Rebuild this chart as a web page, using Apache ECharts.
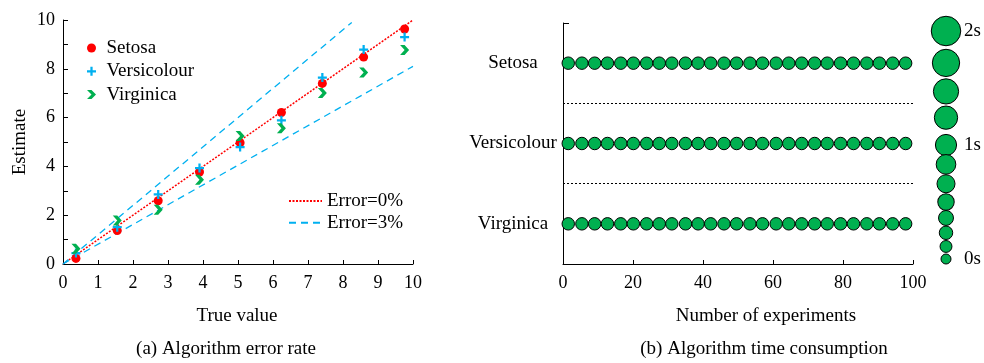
<!DOCTYPE html>
<html><head><meta charset="utf-8">
<script src="https://cdn.jsdelivr.net/npm/echarts@6/dist/echarts.min.js"></script>
<style>html,body{margin:0;padding:0;background:#fff}#c{width:984px;height:363px}</style>
</head><body><div id="c"></div>
<script>
// ---- data: (a) error rate ----
const trueValues     = [0.37, 1.55, 2.72, 3.90, 5.06, 6.24, 7.41, 8.59, 9.76];
const setosaEst      = [0.23, 1.37, 2.59, 3.77, 4.97, 6.21, 7.40, 8.48, 9.63];
const versicolourEst = [0.45, 1.51, 2.85, 3.93, 4.79, 5.89, 7.64, 8.79, 9.30];
const virginicaEst   = [0.62, 1.78, 2.22, 3.45, 5.25, 5.56, 7.01, 7.85, 8.77];
const error0Line  = [[0, 0], [10, 10]];
const error3Upper = [[0, 0], [8.25, 9.9]];
const error3Lower = [[0, 0], [10, 8.1]];
const leftXTickLabels = ['0','1','2','3','4','5','6','7','8','9','10'];
const leftYTickLabels = ['0','2','4','6','8','10'];

// ---- data: (b) time consumption ----
const species = ['Virginica', 'Versicolour', 'Setosa'];
const experimentRuns = [1.5, 5.4, 9.05, 12.7, 16.5, 20.1, 23.9, 27.5, 31.1, 35.0, 38.6, 42.2, 46.0, 49.6,
  53.4, 57.0, 60.9, 64.5, 68.2, 71.9, 75.5, 79.3, 83.0, 86.8, 90.4, 94.2, 97.9];
const setosaTime      = [0.15,0.15,0.15,0.15,0.15,0.15,0.15,0.15,0.15,0.15,0.15,0.15,0.15,0.15,0.15,0.15,0.15,0.15,0.15,0.15,0.15,0.15,0.15,0.15,0.15,0.15,0.15];
const versicolourTime = [0.15,0.15,0.15,0.15,0.15,0.15,0.15,0.15,0.15,0.15,0.15,0.15,0.15,0.15,0.15,0.15,0.15,0.15,0.15,0.15,0.15,0.15,0.15,0.15,0.15,0.15,0.15];
const virginicaTime   = [0.15,0.15,0.15,0.15,0.15,0.15,0.15,0.15,0.15,0.15,0.15,0.15,0.15,0.15,0.15,0.15,0.15,0.15,0.15,0.15,0.15,0.15,0.15,0.15,0.15,0.15,0.15];
const timeScaleValues = [2, 1.72, 1.47, 1.24, 1.0, 0.83, 0.66, 0.5, 0.36, 0.23, 0.11, 0];
const timeScaleLabels = ['0s', '1s', '2s'];
const rightXTickLabels = ['0','20','40','60','80','100'];

// ---- styling ----
const FONT = 'Liberation Serif';
const RED = '#FF0000', BLUE = '#00B0F0', GREEN = '#00B050';
const sizeOf = t => 10 + 19.5 * Math.pow(t / 2, 0.8);
const PLUS = 'path://M3,0 L5,0 L5,3 L8,3 L8,5 L5,5 L5,8 L3,8 L3,5 L0,5 L0,3 L3,3 Z';
const CHEV = 'path://M0,0 L4,0 L8,4 L4,8 L0,8 L4,4 Z';

const G0 = {left: 63, top: 20, width: 350, height: 244};
const G1 = {left: 563, top: 23, width: 350, height: 241};
const G2 = {left: 930, top: 31, width: 32, height: 228};

const axisLineBlack = {show: true, lineStyle: {color: '#000', width: 1}};
const tickText = {fontFamily: FONT, fontSize: 18, color: '#000'};
const bigText = {fontFamily: FONT, fontSize: 19, color: '#000', fontWeight: 'normal'};

const zip = (xs, ys) => xs.map((x, i) => [x, ys[i]]);
const row = (name, times) => experimentRuns.map((x, i) => [x, name, times[i]]);

const chart = echarts.init(document.getElementById('c'), null, {renderer: 'canvas'});
chart.setOption({
  animation: false,
  backgroundColor: '#fff',
  textStyle: {fontFamily: FONT},
  grid: [
    Object.assign({containLabel: false}, G0),
    Object.assign({containLabel: false}, G1),
    Object.assign({containLabel: false}, G2)
  ],
  title: [
    {text: 'True value', left: 232, top: 302, textAlign: 'center', textStyle: bigText},
    {text: '(a) Algorithm error rate', left: 221, top: 335, textAlign: 'center', textStyle: bigText},
    {text: 'Number of experiments', left: 761, top: 302, textAlign: 'center', textStyle: bigText},
    {text: '(b) Algorithm time consumption', left: 759, top: 335, textAlign: 'center', textStyle: bigText}
  ],
  legend: [
    {
      data: ['Setosa', 'Versicolour', 'Virginica'],
      orient: 'vertical', left: 82, top: 33, itemWidth: 20, itemHeight: 9, itemGap: 3.3,
      selectedMode: false,
      textStyle: {fontFamily: FONT, fontSize: 19, color: '#000', lineHeight: 20}
    },
    {
      data: ['Error=0%', 'Error=3%'],
      orient: 'vertical', left: 283, top: 186, itemWidth: 33, itemHeight: 10, itemGap: 1.7,
      selectedMode: false,
      itemStyle: {opacity: 0},
      textStyle: {fontFamily: FONT, fontSize: 19, color: '#000', lineHeight: 20}
    }
  ],
  xAxis: [
    {
      gridIndex: 0, type: 'value', min: 0, max: 10, interval: 1,
      axisLine: axisLineBlack,
      axisTick: {show: true, inside: true, length: 4, lineStyle: {color: '#000'}},
      axisLabel: Object.assign({margin: 10, formatter: v => leftXTickLabels[Math.round(v)]}, tickText),
      splitLine: {show: false}
    },
    {
      gridIndex: 1, type: 'value', min: 0, max: 100, interval: 20,
      axisLine: axisLineBlack,
      axisTick: {show: true, inside: true, length: 4, lineStyle: {color: '#000'}},
      axisLabel: Object.assign({margin: 10, formatter: v => rightXTickLabels[Math.round(v / 20)]}, tickText),
      splitLine: {show: false}
    },
    {gridIndex: 2, type: 'value', min: -1, max: 1, show: false}
  ],
  yAxis: [
    {
      gridIndex: 0, type: 'value', min: 0, max: 10, interval: 1,
      name: 'Estimate', nameLocation: 'middle', nameGap: 33,
      nameTextStyle: {fontFamily: FONT, fontSize: 19, color: '#000'},
      axisLine: axisLineBlack,
      axisTick: {show: true, inside: true, length: 5, lineStyle: {color: '#000'}},
      axisLabel: Object.assign({margin: 8, formatter: v => (Math.round(v) % 2 === 0 ? leftYTickLabels[Math.round(v) / 2] : '')}, tickText),
      splitLine: {show: false}
    },
    {
      gridIndex: 1, type: 'category', data: species, boundaryGap: true,
      axisLine: axisLineBlack,
      axisTick: {show: false},
      axisLabel: {margin: 50, align: 'center', fontFamily: FONT, fontSize: 19, color: '#000'},
      splitLine: {show: true, showMinLine: false, showMaxLine: false,
        lineStyle: {color: '#000', width: 1, type: [2, 2]}}
    },
    {
      gridIndex: 2, type: 'value', min: 0, max: 2, interval: 1, position: 'right',
      axisLine: {show: false}, axisTick: {show: false}, splitLine: {show: false},
      axisLabel: {margin: 2, fontFamily: FONT, fontSize: 19, color: '#000',
        formatter: v => timeScaleLabels[Math.round(v)]}
    }
  ],
  series: [
    {name: 'Error=0%', type: 'line', xAxisIndex: 0, yAxisIndex: 0, data: error0Line, symbol: 'none', z: 1,
      lineStyle: {color: RED, width: 1.5, type: [2, 1.5]}, itemStyle: {color: RED, opacity: 0}},
    {name: 'Error=3%', type: 'line', xAxisIndex: 0, yAxisIndex: 0, data: error3Upper, symbol: 'none', z: 1,
      lineStyle: {color: BLUE, width: 1.3, type: [7, 5]}, itemStyle: {color: BLUE, opacity: 0}},
    {name: 'Error=3%', type: 'line', xAxisIndex: 0, yAxisIndex: 0, data: error3Lower, symbol: 'none', z: 1,
      lineStyle: {color: BLUE, width: 1.3, type: [7, 5]}, itemStyle: {color: BLUE, opacity: 0}},
    {name: 'Setosa', type: 'scatter', xAxisIndex: 0, yAxisIndex: 0, data: zip(trueValues, setosaEst),
      symbol: 'circle', symbolSize: 9, itemStyle: {color: RED, opacity: 1}, z: 3},
    {name: 'Versicolour', type: 'scatter', xAxisIndex: 0, yAxisIndex: 0, data: zip(trueValues, versicolourEst),
      symbol: PLUS, symbolSize: 9, itemStyle: {color: BLUE, opacity: 1}, z: 3},
    {name: 'Virginica', type: 'scatter', xAxisIndex: 0, yAxisIndex: 0, data: zip(trueValues, virginicaEst),
      symbol: CHEV, symbolSize: [9, 10], itemStyle: {color: GREEN, opacity: 1}, z: 3},

    {name: 'SetosaTime', type: 'scatter', xAxisIndex: 1, yAxisIndex: 1, data: row('Setosa', setosaTime),
      symbolSize: v => sizeOf(v[2]), itemStyle: {color: GREEN, borderColor: '#000', borderWidth: 1, opacity: 1}},
    {name: 'VersicolourTime', type: 'scatter', xAxisIndex: 1, yAxisIndex: 1, data: row('Versicolour', versicolourTime),
      symbolSize: v => sizeOf(v[2]), itemStyle: {color: GREEN, borderColor: '#000', borderWidth: 1, opacity: 1}},
    {name: 'VirginicaTime', type: 'scatter', xAxisIndex: 1, yAxisIndex: 1, data: row('Virginica', virginicaTime),
      symbolSize: v => sizeOf(v[2]), itemStyle: {color: GREEN, borderColor: '#000', borderWidth: 1, opacity: 1}},
    {name: 'TimeScale', type: 'scatter', xAxisIndex: 2, yAxisIndex: 2, data: timeScaleValues.map(t => [0, t]),
      symbolSize: v => sizeOf(v[1]), itemStyle: {color: GREEN, borderColor: '#000', borderWidth: 1, opacity: 1}}
  ],
  graphic: [
    {type: 'line', shape: {x1: G1.left, y1: G1.top + 0.5, x2: G1.left + 6, y2: G1.top + 0.5},
      style: {stroke: '#000', lineWidth: 1}, silent: true}
  ]
});
</script></body></html>
